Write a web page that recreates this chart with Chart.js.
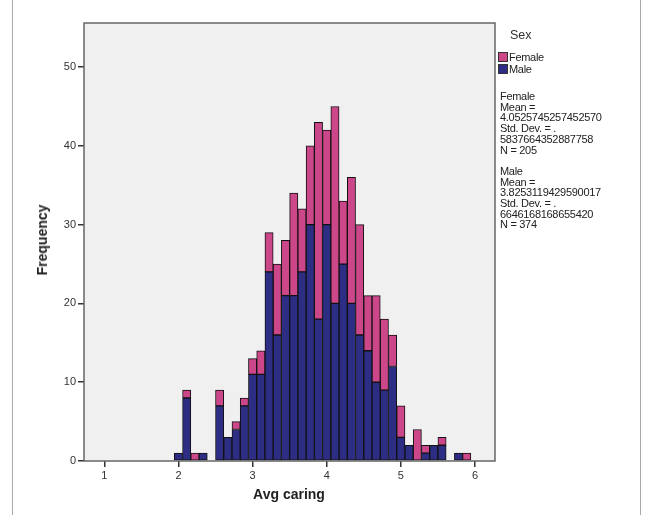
<!DOCTYPE html>
<html>
<head>
<meta charset="utf-8">
<script src="https://cdn.jsdelivr.net/npm/chart.js@4.4.1/dist/chart.umd.min.js"></script>
<style>
  html, body { margin:0; padding:0; background:#fff; }
  #wrap { position:relative; width:645px; height:515px; overflow:hidden; font-family:"Liberation Sans", Arial, sans-serif; color:#333; }
  #c { position:absolute; left:0; top:0; }
  .frameL { position:absolute; left:12px; top:0; width:1px; height:515px; background:#aaa; }
  .frameR { position:absolute; left:640px; top:0; width:1px; height:515px; background:#aaa; }
  .t { position:absolute; white-space:nowrap; }
  .sw { position:absolute; width:10px; height:10px; border:1px solid #333; box-sizing:border-box; }
  #stats { position:absolute; left:500px; top:91px; font-size:11px; line-height:10.7px; letter-spacing:-0.3px; color:#222; }
</style>
</head>
<body>
<div id="wrap">
  <canvas id="c" width="645" height="515"></canvas>
  <div class="frameL"></div>
  <div class="frameR"></div>
  <div class="t" style="left:42px;top:240px;transform:translate(-50%,-50%) rotate(-90deg);font-weight:bold;font-size:14px;color:#222;">Frequency</div>
  <div class="t" style="left:289px;top:494px;transform:translate(-50%,-50%);font-weight:bold;font-size:14px;color:#222;">Avg caring</div>
  <div class="t" style="left:510px;top:28px;font-size:12.5px;color:#333;">Sex</div>
  <div class="sw" id="swF" style="left:498px;top:52px;"></div>
  <div class="t" style="left:509px;top:51px;font-size:11px;letter-spacing:-0.3px;color:#222;">Female</div>
  <div class="sw" id="swM" style="left:498px;top:64px;"></div>
  <div class="t" style="left:509px;top:63px;font-size:11px;letter-spacing:-0.3px;color:#222;">Male</div>
  <div id="stats"></div>
</div>
<script>
// Bin centres (Avg caring), width 1/9
const binCenters = [];
for (let k = 9; k <= 44; k++) binCenters.push(1 + k / 9); // 2.0 .. 5.889
const maleCounts = [1, 8, 0, 1, 0, 7, 3, 4, 7, 11, 11, 24, 16, 21, 21, 24, 30, 18, 30, 20, 25, 20, 16, 14, 10, 9, 12, 3, 2, 0, 1, 2, 2, 0, 1, 0];
const femaleCounts = [0, 1, 1, 0, 0, 2, 0, 1, 1, 2, 3, 5, 9, 7, 13, 8, 10, 25, 12, 25, 8, 16, 14, 7, 11, 9, 4, 4, 0, 4, 1, 0, 1, 0, 0, 1];
const xTicks = [1, 2, 3, 4, 5, 6];
const yTicks = [0, 10, 20, 30, 40, 50];
const seriesNames = ["Male", "Female"];
const statsLines = [
  "Female", "Mean =", "4.0525745257452570", "Std. Dev. = .", "5837664352887758", "N = 205", "",
  "Male", "Mean =", "3.8253119429590017", "Std. Dev. = .", "6646168168655420", "N = 374"
];

const maleColor = "#2c2d83";
const femaleColor = "#cc468a";
document.getElementById("swM").style.background = maleColor;
document.getElementById("swF").style.background = femaleColor;
document.getElementById("stats").innerHTML = statsLines.map(s => s === "" ? "&nbsp;" : s).join("<br>");

const plotBg = {
  id: "plotBg",
  beforeDraw(chart) {
    const { ctx, chartArea: a } = chart;
    ctx.save();
    ctx.fillStyle = "#f0f0f0";
    ctx.fillRect(a.left, a.top, a.right - a.left, a.bottom - a.top);
    ctx.restore();
  },
  afterDraw(chart) {
    const { ctx, chartArea: a } = chart;
    ctx.save();
    ctx.strokeStyle = "#666";
    ctx.lineWidth = 1.5;
    ctx.strokeRect(a.left, a.top, a.right - a.left, a.bottom - a.top);
    ctx.restore();
  }
};

new Chart(document.getElementById("c"), {
  type: "bar",
  data: {
    datasets: [
      { label: seriesNames[0], data: binCenters.map((x, i) => ({ x, y: maleCounts[i] })), backgroundColor: maleColor, borderColor: "#111", borderWidth: 1, borderSkipped: false },
      { label: seriesNames[1], data: binCenters.map((x, i) => ({ x, y: femaleCounts[i] })), backgroundColor: femaleColor, borderColor: "#111", borderWidth: 1, borderSkipped: false }
    ]
  },
  options: {
    responsive: false,
    animation: false,
    devicePixelRatio: 1,
    layout: { padding: { left: 0, right: 150, top: 23, bottom: 0 } },
    plugins: { legend: { display: false }, tooltip: { enabled: false } },
    datasets: { bar: { barPercentage: 1, categoryPercentage: 1 } },
    scales: {
      x: {
        type: "linear", stacked: true, min: 0.726, max: 6.27, offset: false,
        afterBuildTicks(s) { s.ticks = xTicks.map(v => ({ value: v })); },
        afterFit(s) { s.height = 54; },
        grid: { offset: false, drawOnChartArea: false, drawTicks: true, tickLength: 6, color: "#333", lineWidth: 1.5 },
        border: { display: false },
        ticks: { color: "#333", font: { family: "Liberation Sans", size: 11 }, padding: 2, maxRotation: 0 }
      },
      y: {
        type: "linear", stacked: true, min: 0, max: 55.6,
        afterBuildTicks(s) { s.ticks = yTicks.map(v => ({ value: v })); },
        afterFit(s) { s.width = 84; },
        grid: { drawOnChartArea: false, drawTicks: true, tickLength: 6, color: "#333", lineWidth: 1.5 },
        border: { display: false },
        ticks: { color: "#333", font: { family: "Liberation Sans", size: 11 }, padding: 2 }
      }
    }
  },
  plugins: [plotBg]
});
</script>
</body>
</html>
